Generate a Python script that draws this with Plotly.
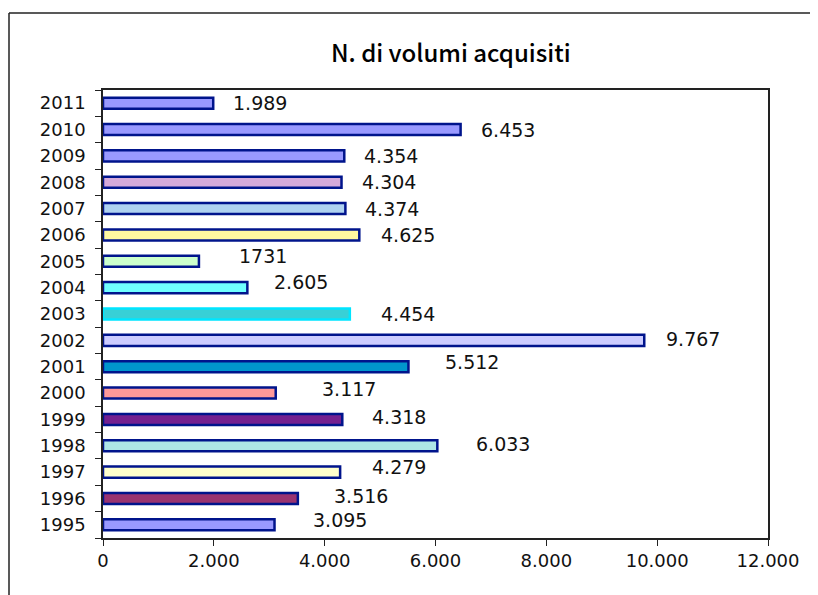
import plotly.graph_objects as go

years = ["1995", "1996", "1997", "1998", "1999", "2000", "2001", "2002", "2003",
         "2004", "2005", "2006", "2007", "2008", "2009", "2010", "2011"]
volumes = [3095, 3516, 4279, 6033, 4318, 3117, 5512, 9767, 4454,
           2605, 1731, 4625, 4374, 4304, 4354, 6453, 1989]
labels = ["3.095", "3.516", "4.279", "6.033", "4.318", "3.117", "5.512", "9.767", "4.454",
          "2.605", "1731", "4.625", "4.374", "4.304", "4.354", "6.453", "1.989"]
fill_colors = ["#9999FF", "#993370", "#FFFFCC", "#AEE6E6", "#74208F", "#FF9999", "#0096CC",
               "#CCCCFF", "#38D0D6", "#70FFFF", "#CCFFCC", "#FFF8A0", "#AFD2F0", "#D6AADA",
               "#9999FF", "#9999FF", "#9999FF"]
border_colors = ["#00148C"] * 8 + ["#00E5FF"] + ["#00148C"] * 8
# label offsets (px) as placed in the original
label_dx = [38, 36, 32, 39, 30, 46, 37, 22, 31, 27, 40, 22, 20, 20, 20, 20, 20]
label_dy = [5, 2, 5, 2, 2, 4, 5, 1, 0, 6, 5, 0, 0, 0, 0, 0, 0]

xticks = [0, 2000, 4000, 6000, 8000, 10000, 12000]
xticktext = ["0", "2.000", "4.000", "6.000", "8.000", "10.000", "12.000"]

FONT = "DejaVu Sans"
TFONT = "Noto Sans CJK JP"

# page body has an 8px margin on every side
OFF = 8
W, H = 818 - 2 * OFF, 595 - OFF
L, T = 103 - OFF, 90 - OFF
R = OFF + W - 768
B = OFF + H - 538
pw, ph = W - L - R, H - T - B

def px(xp):
    return (xp - OFF - L) / pw

def py(yp):
    return (H - B - (yp - OFF)) / ph

fig = go.Figure()
fig.add_trace(go.Bar(
    x=volumes, y=years, orientation="h",
    marker=dict(color=fill_colors, line=dict(color=border_colors, width=2.5)),
    width=0.42, hoverinfo="x+y",
))

annotations = []
for i, (v, t, dx, dy) in enumerate(zip(volumes, labels, label_dx, label_dy)):
    annotations.append(dict(x=v, y=i, xref="x", yref="y", text=t, showarrow=False,
                            xanchor="left", xshift=dx - 2, yshift=dy,
                            font=dict(family=FONT, size=19, color="#111111")))
annotations.append(dict(x=px(451), y=py(52), xref="paper", yref="paper",
                        text="N. di volumi acquisiti", showarrow=False,
                        xanchor="center", yanchor="middle",
                        font=dict(family=TFONT, size=24, color="#000000", weight=500)))

frame = dict(color="#222222", width=1.5)
fig.update_layout(
    width=W, height=H,
    margin=dict(l=L, r=R, t=T, b=B),
    paper_bgcolor="white", plot_bgcolor="white",
    showlegend=False,
    annotations=annotations,
    font=dict(family=FONT, size=18, color="#111111"),
    shapes=[
        dict(type="line", xref="paper", yref="paper",
             x0=px(9), x1=px(900), y0=py(13), y1=py(13), line=frame, layer="below"),
        dict(type="line", xref="paper", yref="paper",
             x0=px(9), x1=px(9), y0=py(13), y1=py(700), line=frame, layer="below"),
    ],
    xaxis=dict(range=[0, 12000], tickvals=xticks, ticktext=xticktext,
               showgrid=False, zeroline=False, showline=True, linecolor="#222222",
               linewidth=1.5, mirror=True, ticks="outside", ticklen=6, tickcolor="#222222",
               tickfont=dict(family=FONT, size=18, color="#111111")),
    yaxis=dict(type="category", categoryorder="array", categoryarray=years,
               showgrid=False, showline=True, linecolor="#222222", linewidth=1.5, mirror=True,
               ticks="outside", ticklen=6, tickcolor="#222222", tickson="boundaries",
               ticklabelstandoff=12,
               tickfont=dict(family=FONT, size=18, color="#111111"),
               range=[-0.5, 16.5]),
    bargap=0.55,
)

fig.write_html("out.html")
